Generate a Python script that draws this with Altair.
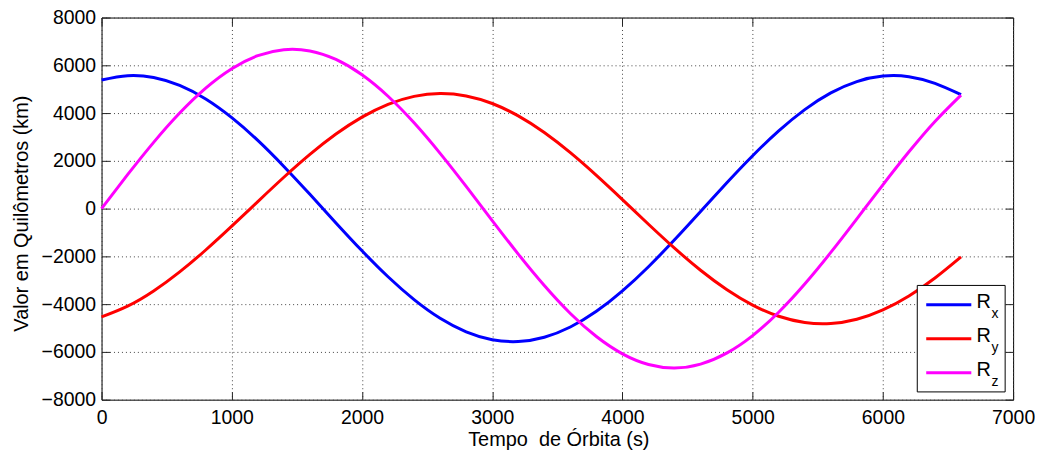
import altair as alt
import pandas as pd

T = [0, 200, 400, 600, 800, 1000, 1200, 1400, 1600, 1800, 2000, 2200, 2400, 2600,
     2800, 3000, 3200, 3400, 3600, 3800, 4000, 4200, 4400, 4600, 4800, 5000, 5200,
     5400, 5600, 5800, 6000, 6200, 6400, 6600]

RX = [5386, 5565, 5488, 5157, 4590, 3808, 2855, 1766, 598, -598, -1766, -2854,
      -3808, -4590, -5157, -5488, -5565, -5386, -4957, -4300, -3444, -2432, -1306,
      -120, 1072, 2214, 3254, 4145, 4844, 5319, 5549, 5524, 5243, 4770]

RY = [-4536, -4085, -3449, -2650, -1733, -736, 294, 1312, 2269, 3121, 3830, 4366,
      4700, 4820, 4718, 4401, 3881, 3186, 2342, 1391, 377, -654, -1656, -2581,
      -3387, -4040, -4507, -4767, -4809, -4631, -4241, -3656, -2903, -2019]

RZ = [0, 1419, 2774, 4001, 5045, 5858, 6403, 6654, 6601, 6244, 5602, 4704, 3591,
      2311, 927, -500, -1904, -3220, -4390, -5357, -6080, -6525, -6670, -6509,
      -6051, -5316, -4337, -3158, -1835, -429, 997, 2378, 3650, 4754]

SERIES = ["Rx", "Ry", "Rz"]
SUBSCRIPTS = ["x", "y", "z"]
COLORS = ["#0000ff", "#ff0000", "#ff00ff"]
XTICKS = [0, 1000, 2000, 3000, 4000, 5000, 6000, 7000]
YTICKS = [-8000, -6000, -4000, -2000, 0, 2000, 4000, 6000, 8000]
X_TITLE = "Tempo\u00a0 de Órbita (s)"
Y_TITLE = "Valor em Quilômetros (km)"

df = pd.DataFrame({
    "t": T * 3,
    "value": RX + RY + RZ,
    "series": [s for s in SERIES for _ in T],
})

W, H = 916, 384
FONT = "Liberation Sans"

xscale = alt.Scale(domain=[0, 7000], nice=False, zero=False)
yscale = alt.Scale(domain=[-8000, 8000], nice=False, zero=False)

base = alt.Chart(df)

lines = base.mark_line(strokeWidth=3, interpolate="natural").encode(
    x=alt.X("t:Q", scale=xscale, axis=alt.Axis(
        values=XTICKS, format="d", ticks=False, tickSize=0, labelPadding=9,
        labelFlush=False, labelOverlap=False, domain=False,
        grid=True, gridDash=[1, 3], gridColor="#444", gridWidth=1,
        title=X_TITLE, titleX=459, titleY=46.5, titleBaseline="alphabetic")),
    y=alt.Y("value:Q", scale=yscale, axis=alt.Axis(
        values=YTICKS, format="d", ticks=False, tickSize=0, labelPadding=6,
        labelFlush=False, labelOverlap=False, domain=False,
        grid=True, gridDash=[1, 3], gridColor="#444", gridWidth=1,
        title=Y_TITLE, titleX=-74, titleY=196.5, titleBaseline="alphabetic")),
    color=alt.Color("series:N", scale=alt.Scale(domain=SERIES, range=COLORS), legend=None),
)

tick_axis = dict(labels=False, domain=False, grid=False, ticks=True, tickSize=8,
                 tickColor="#222", tickWidth=1, title=None)

ghost = base.mark_line(strokeOpacity=0)
ticks_a = ghost.encode(
    x=alt.X("t:Q", scale=xscale, axis=alt.Axis(orient="bottom", offset=-H, values=XTICKS, **tick_axis)),
    y=alt.Y("value:Q", scale=yscale, axis=alt.Axis(orient="left", offset=-W, values=YTICKS, **tick_axis)),
    detail="series:N",
)
ticks_b = ghost.encode(
    x=alt.X("t:Q", scale=xscale, axis=alt.Axis(orient="top", offset=-H, values=XTICKS, **tick_axis)),
    y=alt.Y("value:Q", scale=yscale, axis=alt.Axis(orient="right", offset=-W, values=YTICKS, **tick_axis)),
    detail="series:N",
)

one = pd.DataFrame({"k": [0]})
legend_layers = [
    alt.Chart(one).mark_rect(fill="white", stroke="black", strokeWidth=1).encode(
        x=alt.value(819.7), x2=alt.value(908), y=alt.value(269.2), y2=alt.value(376.2))
]
for i, (sub, col) in enumerate(zip(SUBSCRIPTS, COLORS)):
    dy = 34.2 * i
    legend_layers.append(alt.Chart(one).mark_rule(color=col, strokeWidth=3).encode(
        x=alt.value(828.7), x2=alt.value(874), y=alt.value(288.5 + dy)))
    legend_layers.append(alt.Chart(one).mark_text(
        text="R", align="left", baseline="alphabetic", fontSize=20, color="black", font=FONT
    ).encode(x=alt.value(879.2), y=alt.value(292.3 + dy)))
    legend_layers.append(alt.Chart(one).mark_text(
        text=sub, align="left", baseline="alphabetic", fontSize=14, color="black", font=FONT
    ).encode(x=alt.value(894.2), y=alt.value(301.8 + dy)))

chart = alt.layer(lines, ticks_a, ticks_b, *legend_layers).resolve_axis(
    x="independent", y="independent"
).properties(
    width=W, height=H,
    autosize=alt.AutoSizeParams(type="none"),
    padding={"left": 94, "top": 8.5, "right": 22, "bottom": 51.5},
).configure(
    font=FONT, background="white"
).configure_view(
    stroke="black", strokeWidth=1
).configure_axis(
    labelFont=FONT, titleFont=FONT, labelFontSize=19.5, titleFontSize=20,
    labelColor="black", titleColor="black", titleFontWeight="normal",
)

chart.save("out.html", embed_options={"renderer": "svg", "actions": False})
